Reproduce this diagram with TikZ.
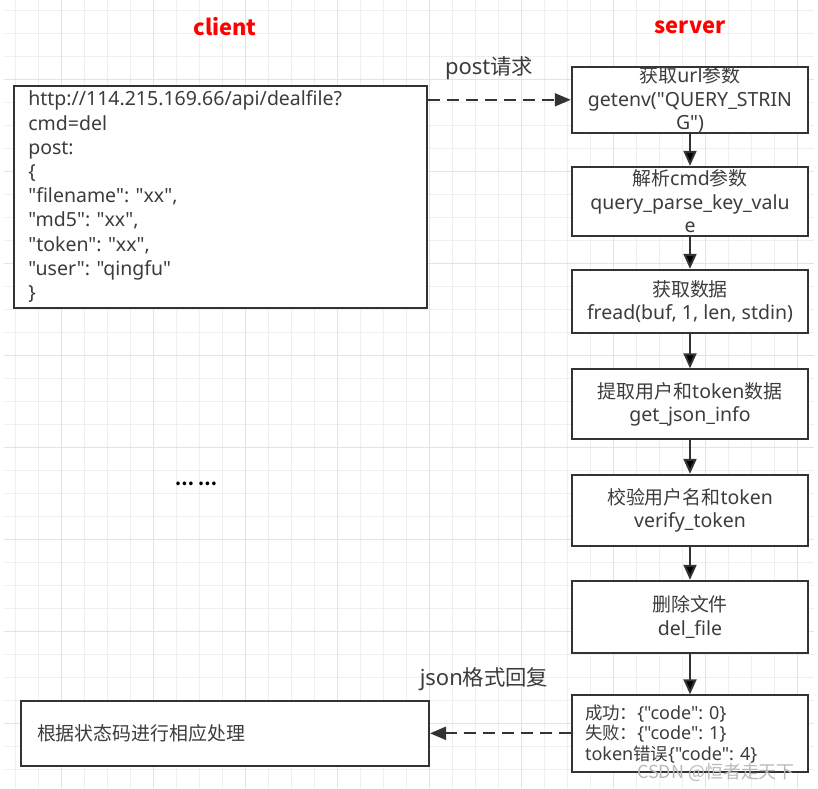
\documentclass[tikz,border=0pt]{standalone}
\usepackage{fontspec}
\setmainfont{Noto Sans}[Ligatures=TeXOff]
\newfontfamily\zhfont{Noto Sans CJK SC}[Ligatures=TeXOff,Scale=0.97]
\newcommand\zh[1]{{\zhfont #1}}
\frenchspacing
\usetikzlibrary{arrows.meta,positioning}
\definecolor{lineclr}{HTML}{333333}
\definecolor{txtclr}{HTML}{3C3C3C}
\definecolor{gridminor}{HTML}{EFEFEF}
\definecolor{gridmajor}{HTML}{E3E3E3}
\tikzstyle{proc}=[draw=lineclr, line width=2pt, fill=white, align=center, text=txtclr, minimum width=236.5pt, inner sep=0pt, font=\fontsize{19.5}{23.5}\selectfont]
\tikzstyle{note}=[draw=lineclr, line width=2pt, fill=white, align=left, text=txtclr, inner ysep=0pt]
\tikzstyle{lbl}=[text=txtclr, font=\fontsize{22}{24}\selectfont, inner sep=0pt]
\tikzstyle{side}=[text=red, font=\zhfont\bfseries\fontsize{22.5}{24}\selectfont, inner sep=0pt]
\tikzstyle{flowarr}=[draw=lineclr, line width=2pt, -{Triangle[length=15pt,width=13pt]}]
\tikzstyle{dasharr}=[draw=lineclr, line width=2pt, dash pattern=on 12pt off 7pt, -{Triangle[length=16pt,width=13pt]}]

\begin{document}
\begin{tikzpicture}[x=1pt,y=-1pt]
        \useasboundingbox[fill=white] (0,0) rectangle (818,788);
        % background grid
        \foreach \k in {0,...,34} {
            \pgfmathsetmacro\gx{15.3+23*\k}
            \draw[gridminor, line width=1pt] (\gx,0) -- (\gx,788);
        }
        \foreach \k in {0,...,33} {
            \pgfmathsetmacro\gy{10.7+23*\k}
            \draw[gridminor, line width=1pt] (4,\gy) -- (814,\gy);
        }
        \foreach \k in {2,6,...,34} {
            \pgfmathsetmacro\gx{15.3+23*\k}
            \draw[gridmajor, line width=1.2pt] (\gx,0) -- (\gx,788);
        }
        \foreach \k in {3,7,...,33} {
            \pgfmathsetmacro\gy{10.7+23*\k}
            \draw[gridmajor, line width=1.2pt] (4,\gy) -- (814,\gy);
        }

        \node [side] (cli) at (225,27) {client};
        \node [side] (srv) at (690,27) {server};

        % client side
        \node [note, minimum width=412.4pt, minimum height=222.3pt, text width=384.4pt, inner xsep=14pt,
               font=\fontsize{19.5}{24.2}\selectfont] (req) at (220.5,196.8)
            {http://114.215.169.66/api/dealfile?\\cmd=del\\post:\\\{\\"filename": "xx",\\"md5": "xx",\\"token": "xx",\\"user": "qingfu"\\\}};
        \node [text=black, font=\zhfont\bfseries\fontsize{17.5}{20}\selectfont, inner sep=0pt] (dots) at (196,484) {… …};
        \node [note, minimum width=408pt, minimum height=64.7pt, text width=376pt, inner xsep=16pt,
               font=\fontsize{19.5}{23}\selectfont] (res) at (225,733.3) {\zh{根据状态码进行相应处理}};

        % server side
        \node [proc, minimum height=63pt] (s1) at (690,99.8) {\zh{获取}url\zh{参数}\\getenv("QUERY\_STRIN\\G")};
        \node [proc, minimum height=69pt] (s2) [below=32pt of s1] {\zh{解析}cmd\zh{参数}\\query\_parse\_key\_valu\\e};
        \node [proc, minimum height=63pt] (s3) [below=32pt of s2] {\zh{获取数据}\\fread(buf, 1, len, stdin)};
        \node [proc, minimum height=70pt] (s4) [below=34.5pt of s3] {\zh{提取用户和}token\zh{数据}\\get\_json\_info};
        \node [proc, minimum height=71pt] (s5) [below=33.5pt of s4] {\zh{校验用户名和}token\\verify\_token};
        \node [proc, minimum height=72pt] (s6) [below=33pt of s5] {\zh{删除文件}\\del\_file};
        \node [note, minimum width=236.5pt, minimum height=77pt, text width=210pt, inner xsep=13.3pt,
               font=\fontsize{18}{20.5}\selectfont] (s7) [below=40.5pt of s6]
            {\zh{成功：}\{"code": 0\}\\\zh{失败：}\{"code": 1\}\\token\zh{错误}\{"code": 4\}};

        \path[flowarr]
        (s1) edge (s2)
        (s2) edge (s3)
        (s3) edge (s4)
        (s4) edge (s5)
        (s5) edge (s6)
        (s6) edge (s7);
        \draw[dasharr] (req.east |- s1.west) -- (s1.west);
        \draw[dasharr] (s7.west |- res.east) -- (res.east);

        \node [lbl] (postlbl) at (489,68) {post\zh{请求}};
        \node [lbl] (jsonlbl) at (484,679) {json\zh{格式回复}};
        \node [text=gray!55, font=\zhfont\fontsize{18.5}{20}\selectfont, inner sep=0pt] (mark) at (716,772) {CSDN @恒者走天下};

    \end{tikzpicture}
\end{document}
